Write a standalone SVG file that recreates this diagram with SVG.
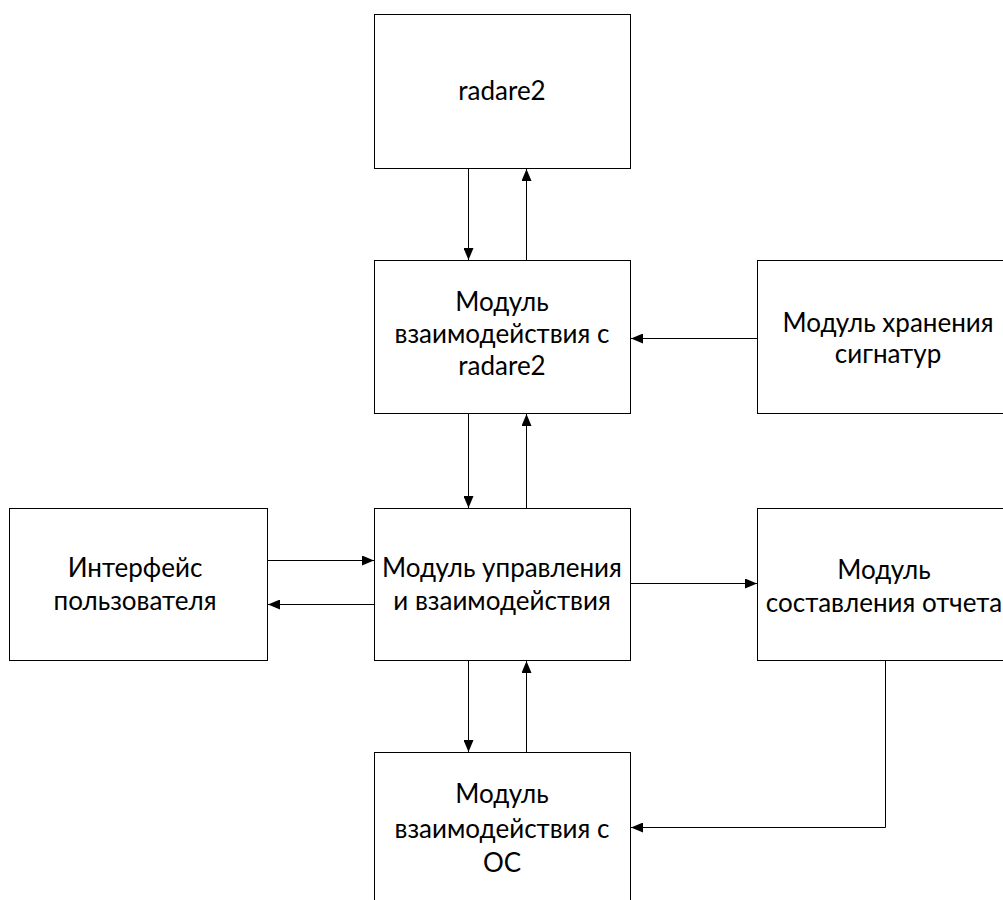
<svg xmlns="http://www.w3.org/2000/svg" width="1003" height="900" viewBox="0 0 1003 900">
<defs>
<marker id="ah" markerWidth="12" markerHeight="10" refX="12" refY="5" orient="auto" markerUnits="userSpaceOnUse">
<path d="M0,0 L12,5 L0,10 Z" fill="#000"/>
</marker>
<style>
.box{fill:#fff;stroke:#000;stroke-width:1}
.lbl{font-family:Lato,"Open Sans","Liberation Sans",sans-serif;font-size:26px;fill:#000;text-anchor:middle}
.c{fill:none;stroke:#000;stroke-width:1;marker-end:url(#ah)}
</style>
</defs>
<rect width="1003" height="900" fill="#fff"/>
<g id="radare2"><rect class="box" x="374.5" y="14.5" width="256" height="154"/><text class="lbl" x="502" y="100">radare2</text></g>
<g id="r2module"><rect class="box" x="374.5" y="260.5" width="256" height="153"/><text class="lbl" x="502" y="311">Модуль</text><text class="lbl" x="502" y="343">взаимодействия с</text><text class="lbl" x="502" y="375">radare2</text></g>
<g id="signatures"><rect class="box" x="757.5" y="260.5" width="260" height="153"/><text class="lbl" x="888" y="332">Модуль хранения</text><text class="lbl" x="888" y="363">сигнатур</text></g>
<g id="ui"><rect class="box" x="9.5" y="508.5" width="258" height="152"/><text class="lbl" x="135" y="577">Интерфейс</text><text class="lbl" x="135" y="610">пользователя</text></g>
<g id="control"><rect class="box" x="374.5" y="508.5" width="256" height="152"/><text class="lbl" x="502" y="577">Модуль управления</text><text class="lbl" x="502" y="610">и взаимодействия</text></g>
<g id="report"><rect class="box" x="757.5" y="508.5" width="260" height="152"/><text class="lbl" x="884" y="579">Модуль</text><text class="lbl" x="884" y="612">составления отчета</text></g>
<g id="os"><rect class="box" x="374.5" y="752.5" width="256" height="160"/><text class="lbl" x="502" y="803">Модуль</text><text class="lbl" x="502" y="838">взаимодействия с</text><text class="lbl" x="502" y="872">ОС</text></g>
<g id="connectors">
<path class="c" d="M468.5,169 V260"/>
<path class="c" d="M526.5,260 V169"/>
<path class="c" d="M757,338.5 H631"/>
<path class="c" d="M468.5,414 V508"/>
<path class="c" d="M526.5,508 V414"/>
<path class="c" d="M268,560.5 H374"/>
<path class="c" d="M374,604.5 H268"/>
<path class="c" d="M631,583.5 H757"/>
<path class="c" d="M468.5,661 V752"/>
<path class="c" d="M526.5,752 V661"/>
<path class="c" d="M885.5,661 V827.5 H631"/>
</g>
</svg>
